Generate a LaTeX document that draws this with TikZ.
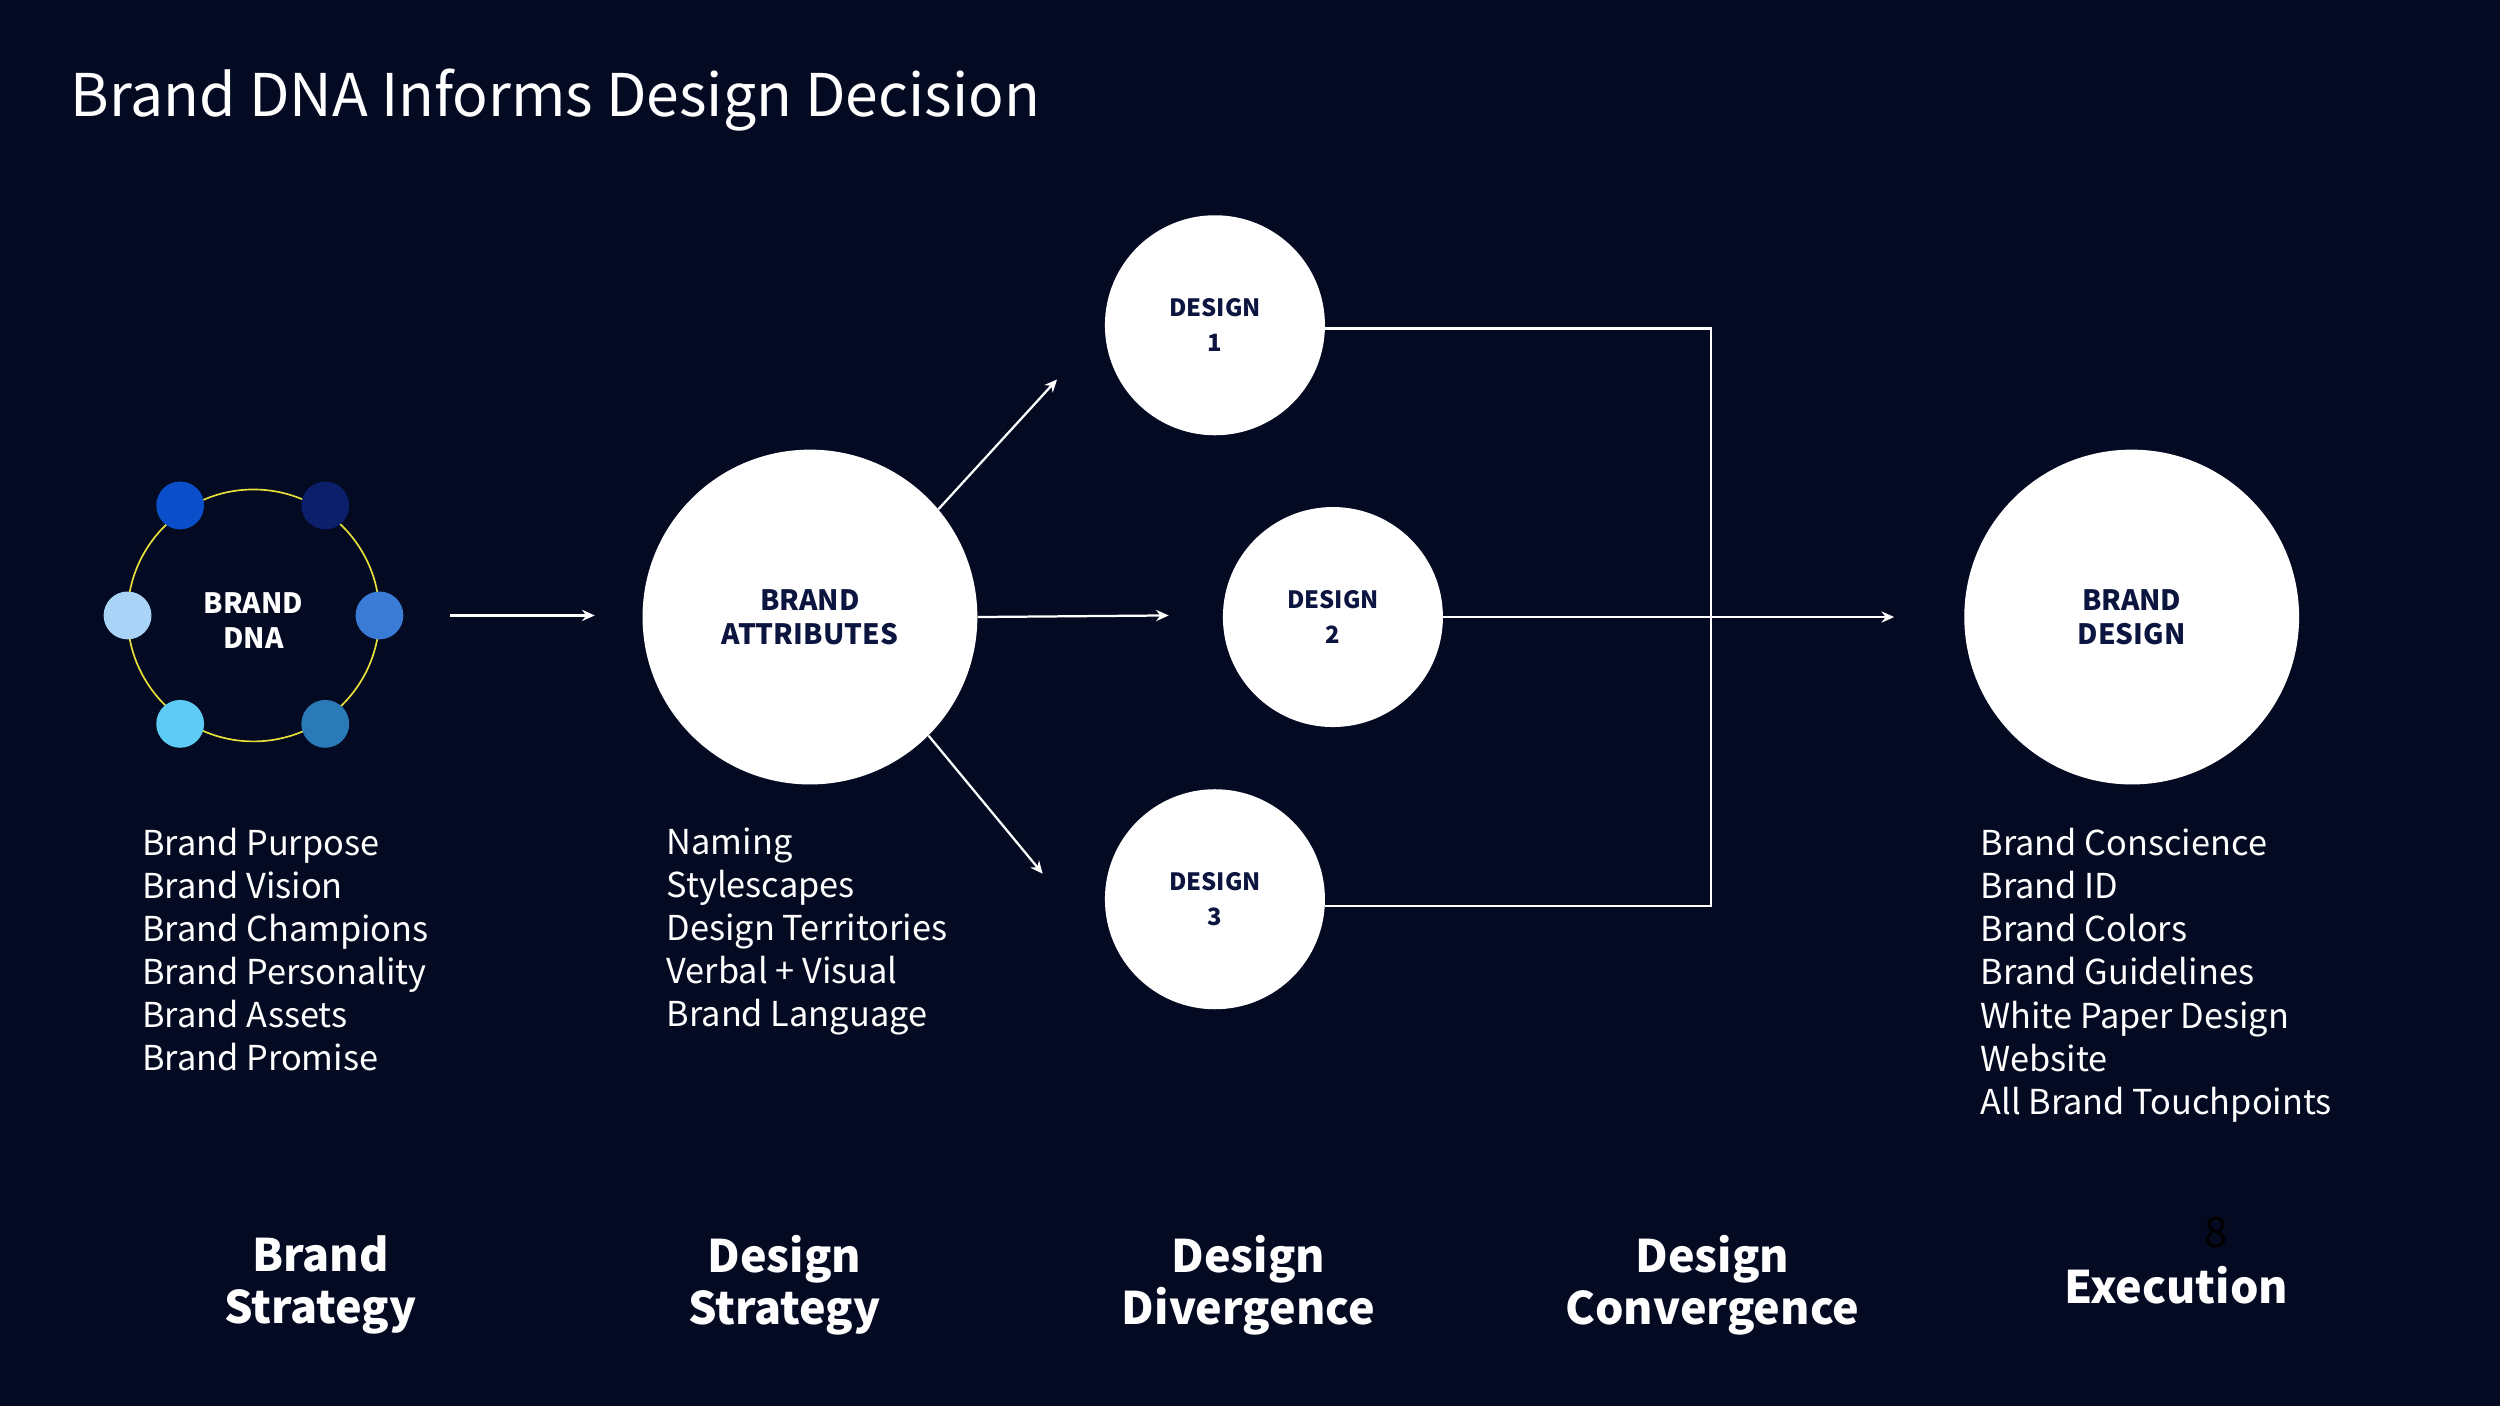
\documentclass[tikz,border=0pt]{standalone}
\usepackage{fontspec}
\setmainfont{Noto Sans CJK JP}
\usetikzlibrary{arrows.meta}
\definecolor{bg}{HTML}{040A22}
\definecolor{navy}{HTML}{0B1540}
\definecolor{dA}{HTML}{0A4FC9}
\definecolor{dB}{HTML}{0B1F6B}
\definecolor{dC}{HTML}{A9D4F7}
\definecolor{dD}{HTML}{3A7BD5}
\definecolor{dE}{HTML}{5ECBF5}
\definecolor{dF}{HTML}{2A7AB8}
\definecolor{ring}{HTML}{E8E03A}
\begin{document}
\begin{tikzpicture}[x=0.04cm,y=-0.04cm,
  big/.style={circle,fill=white,minimum size=210*0.04cm,inner sep=0,align=center,text=navy,font=\fontsize{20}{24}\selectfont\bfseries},
  des/.style={circle,fill=white,minimum size=138*0.04cm,inner sep=0,align=center,text=navy,font=\fontsize{17}{25}\selectfont\bfseries},
  dot/.style={circle,minimum size=30*0.04cm,inner sep=0},
  arr/.style={white,line width=1.6pt,-{Stealth[length=9pt,width=8pt]}},
  ln/.style={white,line width=1.6pt},
  lst/.style={anchor=north west,align=left,text=white,font=\fontsize{24.5}{30.7}\selectfont,inner sep=0},
  stage/.style={anchor=center,align=center,text=white,font=\fontsize{32}{37}\selectfont\bfseries,inner sep=0}]
\fill[bg] (0,0) rectangle (1568,882);
\useasboundingbox (0,0) rectangle (1568,882);
\node[anchor=west,text=white,font=\fontsize{42}{48}\selectfont,inner sep=0] (title) at (44,63) {Brand DNA Informs Design Decision};
% DNA
\draw[ring,line width=1.2pt] (159,386) circle (79);
\node[dot,fill=dA] (d1) at (113,317) {};
\node[dot,fill=dB] (d2) at (204,317) {};
\node[dot,fill=dC] (d3) at (80,386) {};
\node[dot,fill=dD] (d4) at (238,386) {};
\node[dot,fill=dE] (d5) at (113,454) {};
\node[dot,fill=dF] (d6) at (204,454) {};
\node[align=center,text=white,font=\fontsize{20}{25}\selectfont\bfseries,inner sep=0] (dna) at (159,389) {BRAND\\DNA};
\coordinate (a0) at (282,386);
\node[big] (attr) at (508,387) {BRAND\\ATTRIBUTES};
\draw[arr] (a0) -- (373,386) coordinate (a1);
\node[des] (des1) at (762,204) {DESIGN\\1};
\node[des] (des2) at (836,387) {DESIGN\\2};
\node[des] (des3) at (762,564) {DESIGN\\3};
\node[big] (bd) at (1337,387) {BRAND\\DESIGN};
\coordinate (t1) at (663,238);
\coordinate (t2) at (733,386);
\coordinate (t3) at (654,548);
\draw[arr] (attr.40) -- (t1);
\draw[arr] (attr.east) -- (t2);
\draw[arr] (attr.-45) -- (t3);
\coordinate (c1) at (1073,206);
\coordinate (c3) at (1073,568);
\coordinate (ae) at (1188,387);
\draw[ln] (des1.east |- c1) -- (c1) -- (c3) -- (des3.east |- c3);
\draw[arr] (des2.east) -- (ae);
% lists
\node[lst] (l1) at (89,519) {Brand Purpose\\Brand Vision\\Brand Champions\\Brand Personality\\Brand Assets\\Brand Promise};
\node[lst] (l2) at (418,519) {Naming\\Stylescapes\\Design Territories\\Verbal + Visual\\Brand Language};
\node[lst] (l3) at (1242,519) {Brand Conscience\\Brand ID\\Brand Colors\\Brand Guidelines\\[27\dimexpr0.04cm\relax]White Paper Design\\Website\\All Brand Touchpoints};
% stages
\node[stage] (s1) at (201,806) {Brand\\Strategy};
\node[stage] (s2) at (492,806) {Design\\Strategy};
\node[stage] (s3) at (783,806) {Design\\Divergence};
\node[stage] (s4) at (1074,806) {Design\\Convergence};
\node[stage] (s5) at (1365,806) {Execution};
\node[text=black,font=\fontsize{30}{30}\selectfont,inner sep=0] (pg) at (1390,773) {8};
\end{tikzpicture}
\end{document}
